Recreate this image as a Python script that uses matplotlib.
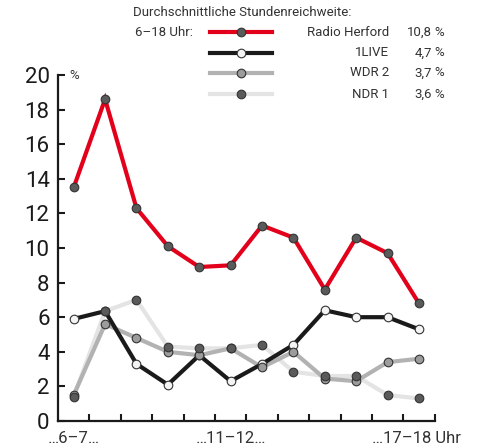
import matplotlib.pyplot as plt
import numpy as np

# Stundenreichweite in %, 6-7 ... 17-18 Uhr
hours = ["6-7", "7-8", "8-9", "9-10", "10-11", "11-12",
         "12-13", "13-14", "14-15", "15-16", "16-17", "17-18"]
radio_herford = [13.5, 18.6, 12.3, 10.1, 8.9, 9.0, 11.3, 10.6, 7.6, 10.6, 9.7, 6.8]
einslive = [5.9, 6.35, 3.3, 2.1, 3.8, 2.3, 3.3, 4.4, 6.4, 6.0, 6.0, 5.3]
wdr2 = [1.5, 5.6, 4.8, 4.0, 3.8, 4.2, 3.1, 4.0, 2.45, 2.3, 3.4, 3.6]
ndr1 = [1.4, 6.35, 7.0, 4.3, 4.2, 4.2, 4.4, 2.85, 2.6, 2.6, 1.5, 1.3]

names = ["Radio Herford", "1LIVE", "WDR 2", "NDR 1"]
averages = ["10,8", "4,7", "3,7", "3,6"]
xlabels = ["…6–7…", "…11–12…", "…17–18 Uhr"]

plt.rcParams['font.family'] = ['Roboto', 'DejaVu Sans']

fig = plt.figure(figsize=(4.81, 4.47), dpi=100)
ax = fig.add_axes([0.1206, 0.0582, 0.7831, 0.774])

x = np.arange(len(hours)) + 0.5
series = [radio_herford, einslive, wdr2, ndr1]
line_cols = ["#e3001b", "#1a1a1a", "#b2b2b2", "#e4e4e4"]
mark_cols = ["#5a5a5a", "#f4f4f4", "#9c9c9c", "#5a5a5a"]
line_z = [4, 3, 2, 1]
mark_z = [5, 6, 7, 8]

for vals, lc, mc, lz, mz in zip(series, line_cols, mark_cols, line_z, mark_z):
    ax.plot(x, vals, color=lc, lw=3.0, solid_joinstyle='miter', zorder=lz)
    ax.plot(x, vals, ls='none', marker='o', ms=6.2, mfc=mc, mec="#333333",
            mew=0.8, zorder=mz)

ax.set_xlim(0, len(hours))
ax.set_ylim(0, 20)
ax.set_xticks(np.arange(1, len(hours) + 1))
ax.set_xticklabels([])
ax.set_yticks(np.arange(0, 21, 2))
ax.tick_params(axis='both', direction='in', length=5, width=1.5, color="#1a1a1a")
ax.tick_params(axis='y', labelsize=16, pad=6, labelcolor="#1a1a1a")
for s in ["top", "right"]:
    ax.spines[s].set_visible(False)
for s in ["left", "bottom"]:
    ax.spines[s].set_linewidth(1.6)
    ax.spines[s].set_color("#1a1a1a")
ax.patch.set_visible(False)

ax.text(0.35, 20, "%", fontsize=9.5, color="#333333", va='center', ha='left')

# x labels
lab_kw = dict(fontsize=12, color="#333333", va='center',
              transform=ax.get_xaxis_transform())
ax.text(x[0], -0.05, xlabels[0], ha='center', **lab_kw)
ax.text(x[5], -0.05, xlabels[1], ha='center', **lab_kw)
ax.text(10.0, -0.05, xlabels[2], ha='left', **lab_kw)

# legend
fs = 9.5
fig.text(133 / 481, 1 - 12 / 447, "Durchschnittliche Stundenreichweite:",
         fontsize=fs, color="#333333", va='center', ha='left')
fig.text(135 / 481, 1 - 32 / 447, "6–18 Uhr:", fontsize=fs, color="#333333",
         va='center', ha='left')
rows = [32, 53, 73, 94]
for i, yy in enumerate(rows):
    yf = 1 - yy / 447
    fig.add_artist(plt.Line2D([210 / 481, 272 / 481], [yf, yf], color=line_cols[i],
                              lw=3.0, transform=fig.transFigure))
    fig.add_artist(plt.Line2D([241 / 481], [yf], ls='none', marker='o', ms=6.2,
                              mfc=mark_cols[i], mec="#333333", mew=0.8,
                              transform=fig.transFigure))
    fig.text(389 / 481, yf, names[i], fontsize=fs, color="#333333",
             va='center', ha='right')
    fig.text(432 / 481, yf, averages[i], fontsize=fs, color="#333333",
             va='center', ha='right')
    fig.text(444 / 481, yf, "%", fontsize=fs, color="#333333",
             va='center', ha='right')

fig.savefig("out.png", dpi=100)
